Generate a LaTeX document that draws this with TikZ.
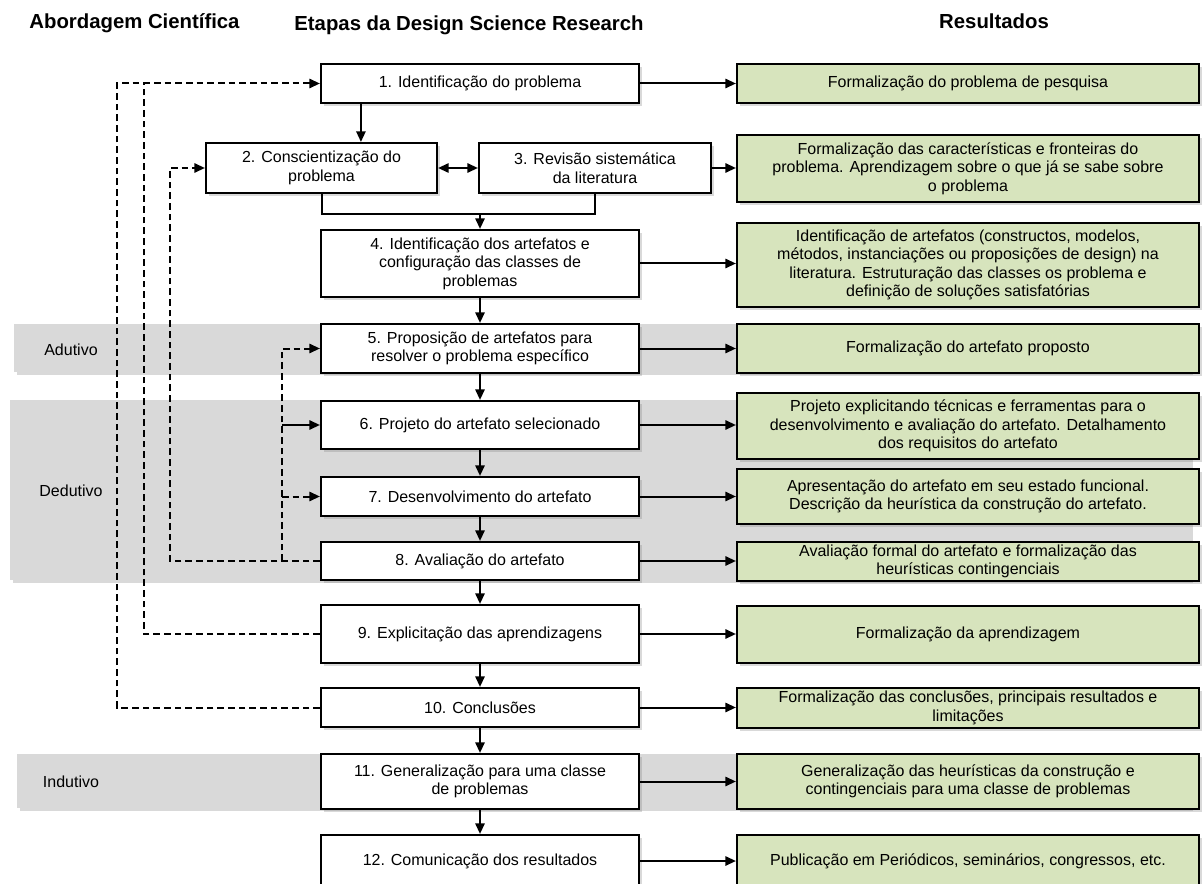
\documentclass[tikz,border=0pt]{standalone}
\usepackage{fontspec}
\setmainfont{Liberation Sans}
\usepackage{xcolor}
\usetikzlibrary{arrows.meta, shadows, calc}
\definecolor{resgreen}{RGB}{215,228,189}
\definecolor{bandgray}{RGB}{217,217,217}

\begin{document}
\begin{tikzpicture}[
  x=0.75pt, y=-0.75pt,
  every node/.style={font=\fontsize{12}{13.8}\selectfont},
  shd/.style={drop shadow={shadow xshift=2pt, shadow yshift=-2pt, opacity=0.3}},
  stp/.style={draw, line width=1.6pt, fill=white, shd, align=center, inner sep=1.5pt, minimum width=238.5pt},
  res/.style={draw, line width=1.6pt, fill=resgreen, shd, align=center, inner sep=1.5pt, minimum width=346.5pt},
  band/.style={fill=bandgray, shd},
  ttl/.style={font=\fontsize{15.25}{17}\selectfont\bfseries, anchor=base},
  ar/.style={-{Triangle[length=8pt, width=7pt]}, line width=1.5pt},
  ar2/.style={{Triangle[length=8pt, width=7pt]}-{Triangle[length=8pt, width=7pt]}, line width=1.5pt},
  dsh/.style={line width=1.5pt, dash pattern=on 5pt off 3pt},
]
\useasboundingbox (0,0) rectangle (1202,884);

% Headings
\node[ttl] (hab) at (134.5,29) {Abordagem Científica};
\node[ttl] (het) at (469,31) {Etapas da Design Science Research};
\node[ttl] (hre) at (994,29) {Resultados};

% Bands - scientific approach
\fill[band] (14,324) rectangle (1190,372);
\fill[band] (10,400) rectangle (1190,580);
\fill[band] (17,754) rectangle (1190,808);
\node (adu) at (71,350) {Adutivo};
\node (ded) at (71,491) {Dedutivo};
\node (ind) at (71,782) {Indutivo};

% Middle column - DSR steps
\node[stp, minimum height=29.25pt] (m1) at (480,83.5) {1. Identificação do problema};
\node[stp, minimum width=173.25pt, minimum height=37.5pt] (m2) at (321.5,168) {2. Conscientização do\\problema};
\node[stp, minimum width=174pt, minimum height=37.5pt] (m3) at (595,168) {3. Revisão sistemática\\da literatura};
\node[stp, minimum height=50.25pt] (m4) at (480,263.5) {4. Identificação dos artefatos e\\configuração das classes de\\problemas};
\node[stp, minimum height=36.75pt] (m5) at (480,348.5) {5. Proposição de artefatos para\\resolver o problema específico};
\node[stp, minimum height=36pt] (m6) at (480,425) {6. Projeto do artefato selecionado};
\node[stp, minimum height=29.25pt] (m7) at (480,496.5) {7. Desenvolvimento do artefato};
\node[stp, minimum height=28.5pt] (m8) at (480,561) {8. Avaliação do artefato};
\node[stp, minimum height=43.5pt] (m9) at (480,634) {9. Explicitação das aprendizagens};
\node[stp, minimum height=29.25pt] (m10) at (480,707.5) {10. Conclusões};
\node[stp, minimum height=41.25pt] (m11) at (480,781.5) {11. Generalização para uma classe\\de problemas};
\node[stp, minimum height=39pt] (m12) at (480,861) {12. Comunicação dos resultados};

% Right column - results
\node[res, minimum height=29.25pt] (r1) at (968,83.5) {Formalização do problema de pesquisa};
\node[res, minimum height=50.25pt] (r2) at (968,168.5) {Formalização das características e fronteiras do\\problema. Aprendizagem sobre o que já se sabe sobre\\o problema};
\node[res, minimum height=63pt] (r3) at (968,265) {Identificação de artefatos (constructos, modelos,\\métodos, instanciações ou proposições de design) na\\literatura. Estruturação das classes os problema e\\definição de soluções satisfatórias};
\node[res, minimum height=36.75pt] (r4) at (968,348.5) {Formalização do artefato proposto};
\node[res, minimum height=49.5pt] (r5) at (968,426) {Projeto explicitando técnicas e ferramentas para o\\desenvolvimento e avaliação do artefato. Detalhamento\\dos requisitos do artefato};
\node[res, minimum height=41.25pt] (r6) at (968,496.5) {Apresentação do artefato em seu estado funcional.\\Descrição da heurística da construção do artefato.};
\node[res, minimum height=29.25pt] (r7) at (968,561.5) {Avaliação formal do artefato e formalização das\\heurísticas contingenciais};
\node[res, minimum height=42.75pt] (r8) at (968,634.5) {Formalização da aprendizagem};
\node[res, minimum height=30pt] (r9) at (968,708) {Formalização das conclusões, principais resultados e\\limitações};
\node[res, minimum height=41.25pt] (r10) at (968,781.5) {Generalização das heurísticas da construção e\\contingenciais para uma classe de problemas};
\node[res, minimum height=39pt] (r11) at (968,861) {Publicação em Periódicos, seminários, congressos, etc.};

% Feedback routes
\coordinate (fb1) at (117,0);
\coordinate (fb2) at (144,0);
\coordinate (fb3) at (170,0);
\coordinate (fb4) at (282,0);
\coordinate (jn) at ($(m2.south)+(0,20)$);
\coordinate (d12) at ($(m1.south west)+(41,0)$);

% Flow of steps
\draw[ar] (d12) -- (d12 |- m2.north);
\draw[ar2] (m2.east) -- (m3.west);
\draw[line width=1.5pt] (m2.south) -- (jn) -| (m3.south);
\draw[ar] (jn -| m4.north) -- (m4.north);
\foreach \a/\b in {4/5,5/6,6/7,7/8,8/9,9/10,10/11,11/12}
  \draw[ar] (m\a.south) -- (m\b.north);

% Steps to results
\draw[ar] (m1.east) -- (m1.east -| r1.west);
\draw[ar] (m3.east) -- (m3.east -| r2.west);
\foreach \i in {4,...,12}{
  \pgfmathtruncatemacro{\j}{\i-1}
  \draw[ar] (m\i.east) -- (m\i.east -| r\j.west);
}

% Dashed returns
\draw[dsh, -{Triangle[length=8pt, width=7pt]}] (m10.west) -- (m10.west -| fb1) |- (m1.west);
\draw[dsh] (m9.west) -- (m9.west -| fb2) -- (fb2 |- m1.west);
\draw[dsh, -{Triangle[length=8pt, width=7pt]}] (m8.west) -- (m8.west -| fb3) |- (m2.west);
\draw[dsh, -{Triangle[length=8pt, width=7pt]}] (m8.west -| fb4) |- (m5.west);
\draw[ar] (fb4 |- m6.west) -- (m6.west);
\draw[dsh, -{Triangle[length=8pt, width=7pt]}] (fb4 |- m7.west) -- (m7.west);
\end{tikzpicture}
\end{document}
